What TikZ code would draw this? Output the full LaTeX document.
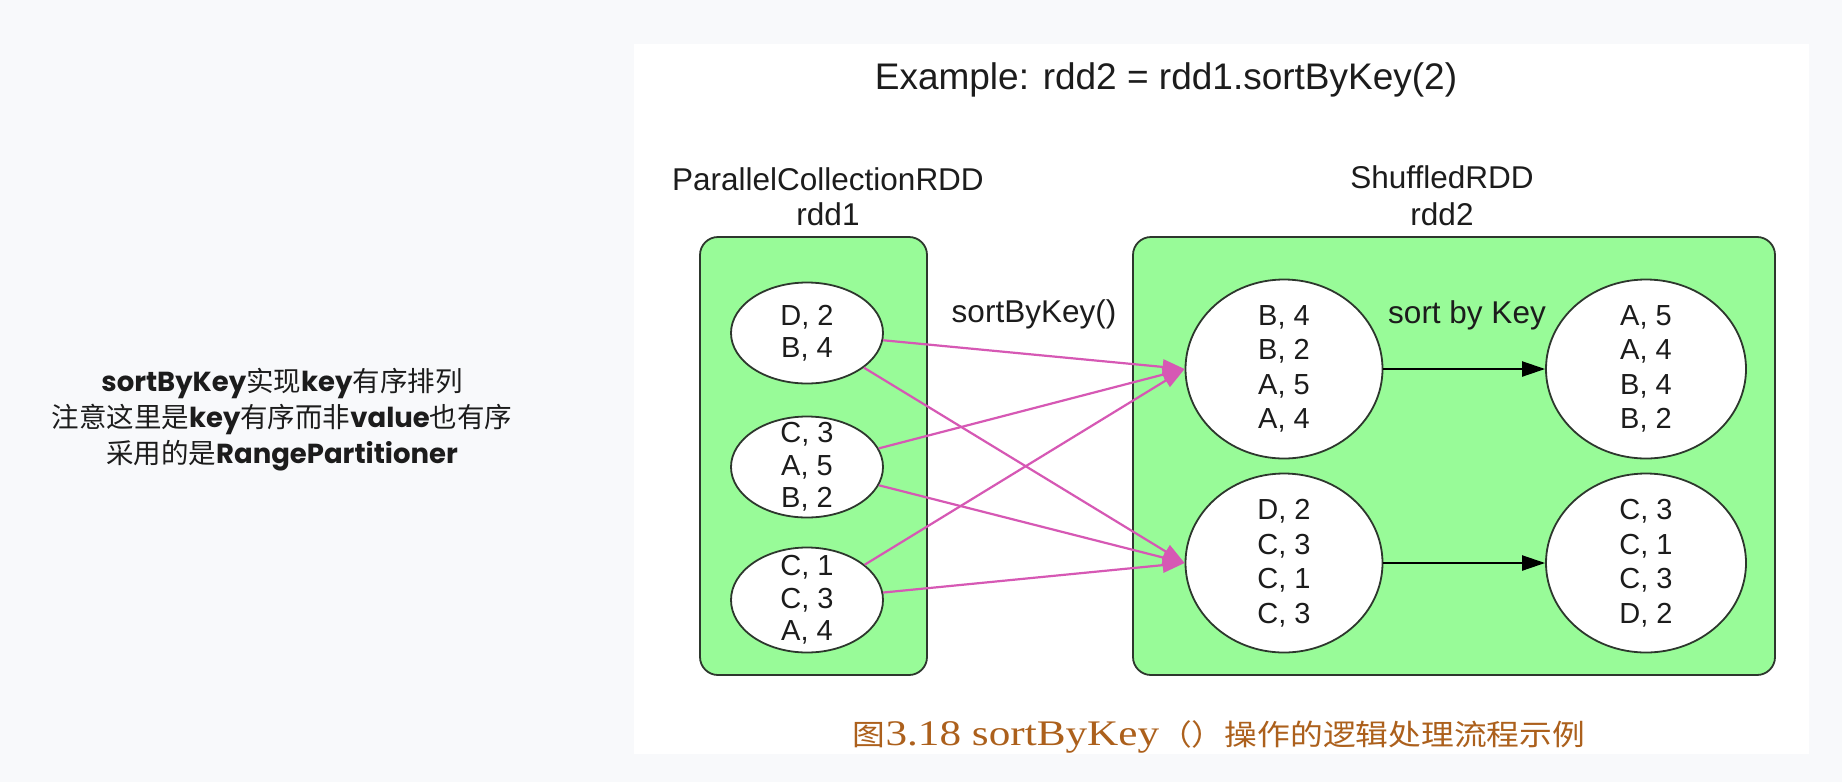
\documentclass[tikz,border=0pt]{standalone}
\usepackage{fontspec}
\setmainfont{Liberation Sans}
\newfontfamily\cjk{Noto Sans CJK SC}
\newfontfamily\cjkwide{Noto Sans CJK SC}[FakeStretch=1.13]
\newfontfamily\serifl{Liberation Serif}[FakeStretch=1.2]
\newfontfamily\hand{Poppins}
\usetikzlibrary{arrows.meta,shapes.geometric}
\definecolor{pagebg}{RGB}{248,249,251}
\definecolor{rddgreen}{RGB}{152,251,152}
\definecolor{edgepink}{RGB}{214,88,180}
\definecolor{capbrown}{RGB}{172,96,28}
\definecolor{inkdark}{RGB}{28,28,28}
\definecolor{borderdark}{RGB}{45,55,45}
\newcommand{\hlat}[1]{{\hand\bfseries #1}}
\newcommand{\hcjk}[1]{{\cjk #1}}
\begin{document}
\begin{tikzpicture}[x=1pt,y=-1pt,
  cluster/.style={draw=borderdark, line width=1.8pt, fill=rddgreen, rounded corners=18pt, inner sep=0pt},
  part/.style={ellipse, draw=borderdark, line width=1.8pt, fill=white, inner sep=0pt},
  smallpart/.style={part, minimum width=152pt, minimum height=101pt},
  bigpart/.style={part, minimum width=197pt, minimum height=179pt},
  ltxt/.style={align=center, text=inkdark, inner sep=0pt, font=\fontsize{29}{32.5}\selectfont},
  rtxt/.style={align=center, text=inkdark, inner sep=0pt, font=\fontsize{29}{34.5}\selectfont},
  lbl/.style={anchor=base, text=inkdark, inner sep=0pt, font=\fontsize{31.5}{35}\selectfont},
  pinkarrow/.style={draw=edgepink, line width=2.2pt, -{Triangle[length=22pt,width=15pt]}},
  blackarrow/.style={draw=black, line width=2.2pt, -{Triangle[length=23pt,width=15pt]}},
  note/.style={anchor=base, text=inkdark, inner sep=0pt, font=\fontsize{27.5}{31}\selectfont},
]
\useasboundingbox (0,0) rectangle (1842,782);
\fill[pagebg] (0,0) rectangle (1842,782);
\node[fill=white, inner sep=0pt, minimum width=1175pt, minimum height=710pt] (panel) at (1221.5,399) {};

% left notes
\node[note] (n1) at (282,391) {\hlat{sortByKey}\hcjk{实现}\hlat{key}\hcjk{有序排列}};
\node[note] (n2) at (282,427) {\hcjk{注意这里是}\hlat{key}\hcjk{有序而非}\hlat{value}\hcjk{也有序}};
\node[note] (n3) at (282,463) {\hcjk{采用的是}\hlat{RangePartitioner}};

% title and cluster labels
\node[anchor=base, text=inkdark, inner sep=0pt, font=\fontsize{37}{40}\selectfont] (title) at (1166,89) {Example: rdd2 = rdd1.sortByKey(2)};
\node[lbl] (l1a) at (828,190) {ParallelCollectionRDD};
\node[lbl] (l1b) at (828,225) {rdd1};
\node[lbl] (l2a) at (1442,188) {ShuffledRDD};
\node[lbl] (l2b) at (1442,225) {rdd2};

% clusters
\node[cluster, minimum width=227pt, minimum height=438pt] (c1) at (813.5,456) {};
\node[cluster, minimum width=642pt, minimum height=438pt] (c2) at (1454,456) {};

% rdd1 partitions
\node[smallpart] (e1) at (807,333) {};
\node[ltxt] (e1t) at (e1) {D, 2\\B, 4};
\node[smallpart] (e2) at (807,467) {};
\node[ltxt] (e2t) at (e2) {C, 3\\A, 5\\B, 2};
\node[smallpart, minimum height=105pt] (e3) at (807,600) {};
\node[ltxt] (e3t) at (e3) {C, 1\\C, 3\\A, 4};

% rdd2 partitions
\node[bigpart] (r1) at (1284,369) {};
\node[rtxt] (r1t) at (r1) {B, 4\\B, 2\\A, 5\\A, 4};
\node[bigpart] (r2) at (1284,563) {};
\node[rtxt] (r2t) at (r2) {D, 2\\C, 3\\C, 1\\C, 3};
\node[bigpart, minimum width=200pt] (s1) at (1646,369) {};
\node[rtxt] (s1t) at (s1) {A, 5\\A, 4\\B, 4\\B, 2};
\node[bigpart, minimum width=200pt] (s2) at (1646,563) {};
\node[rtxt] (s2t) at (s2) {C, 3\\C, 1\\C, 3\\D, 2};

% edge labels
\node[lbl] (sbk) at (1034,322) {sortByKey()};
\node[lbl] (sk) at (1467,323) {sort by Key};

% shuffle edges
\draw[pinkarrow] (e1) -- (r1.west);
\draw[pinkarrow] (e1) -- (r2.west);
\draw[pinkarrow] (e2) -- (r1.west);
\draw[pinkarrow] (e2) -- (r2.west);
\draw[pinkarrow] (e3) -- (r1.west);
\draw[pinkarrow] (e3) -- (r2.west);

% sort edges
\draw[blackarrow] (r1) -- (s1);
\draw[blackarrow] (r2) -- (s2);

% caption
\node[anchor=base, text=capbrown, inner sep=0pt] (cap) at (1219,745) {{\cjkwide\fontsize{29}{32}\selectfont 图}{\serifl\fontsize{36}{40}\selectfont 3.18 sortByKey}{\cjkwide\fontsize{29}{32}\selectfont （）操作的逻辑处理流程示例}};
\end{tikzpicture}
\end{document}
